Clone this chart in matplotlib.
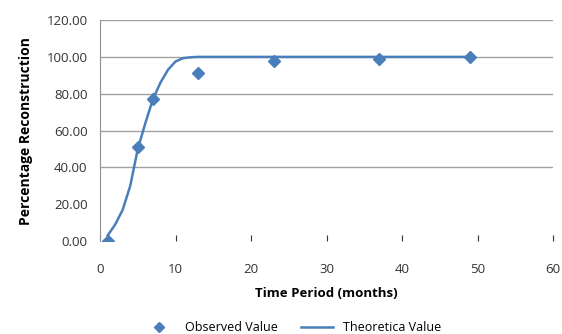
import matplotlib.pyplot as plt

plt.rcParams['font.family'] = ['Open Sans', 'DejaVu Sans']

# observed data
obs_x = [1, 5, 7, 13, 23, 37, 49]
obs_y = [0, 51, 77, 91, 97.5, 99, 100]

# theoretical curve
theo_x = [1, 2, 3, 4, 5, 6, 7, 8, 9, 10, 11, 12, 13, 23, 37, 49]
theo_y = [3, 9, 17, 30, 50, 64, 77, 86, 93, 97.5, 99.3, 99.8, 100, 100, 100, 100]

yticks = [0, 20, 40, 60, 80, 100, 120]
xticks = [0, 10, 20, 30, 40, 50, 60]

blue = '#4a7ebb'

fig = plt.figure(figsize=(5.62, 3.34), dpi=100)
ax = fig.add_axes([0.178, 0.278, 0.806, 0.662])

for v in yticks[2:]:
    ax.axhline(v, color='#a0a0a0', lw=1, zorder=0)

ax.plot(theo_x, theo_y, color=blue, lw=1.8, label='Theoretica Value', zorder=2)
ax.plot(obs_x, obs_y, 'D', color=blue, ms=6, label='Observed Value', zorder=3)

ax.set_xlim(0, 60)
ax.set_ylim(0, 120)
ax.set_xticks(xticks)
ax.set_yticks(yticks)
ax.set_yticklabels([f'{v:.2f}' for v in yticks])
ax.tick_params(axis='y', length=0, labelsize=9.5, colors='#333333', pad=9)
ax.tick_params(axis='x', length=4, labelsize=9.5, colors='#333333', direction='in',
               pad=16)
for s in ['top', 'right', 'bottom']:
    ax.spines[s].set_visible(False)
ax.spines['left'].set_color('#909090')

ax.set_xlabel('Time Period (months)', fontsize=9.5, fontweight='bold', labelpad=8)
ax.set_ylabel('Percentage Reconstruction', fontsize=10, fontweight='bold', labelpad=10)

h, l = ax.get_legend_handles_labels()
fig.legend(h[::-1], l[::-1], loc='lower center', bbox_to_anchor=(0.52, -0.035),
           ncol=2, frameon=False, fontsize=9, handlelength=2.6, columnspacing=1.8,
           markerscale=0.8)

fig.savefig('out.png', dpi=100)
